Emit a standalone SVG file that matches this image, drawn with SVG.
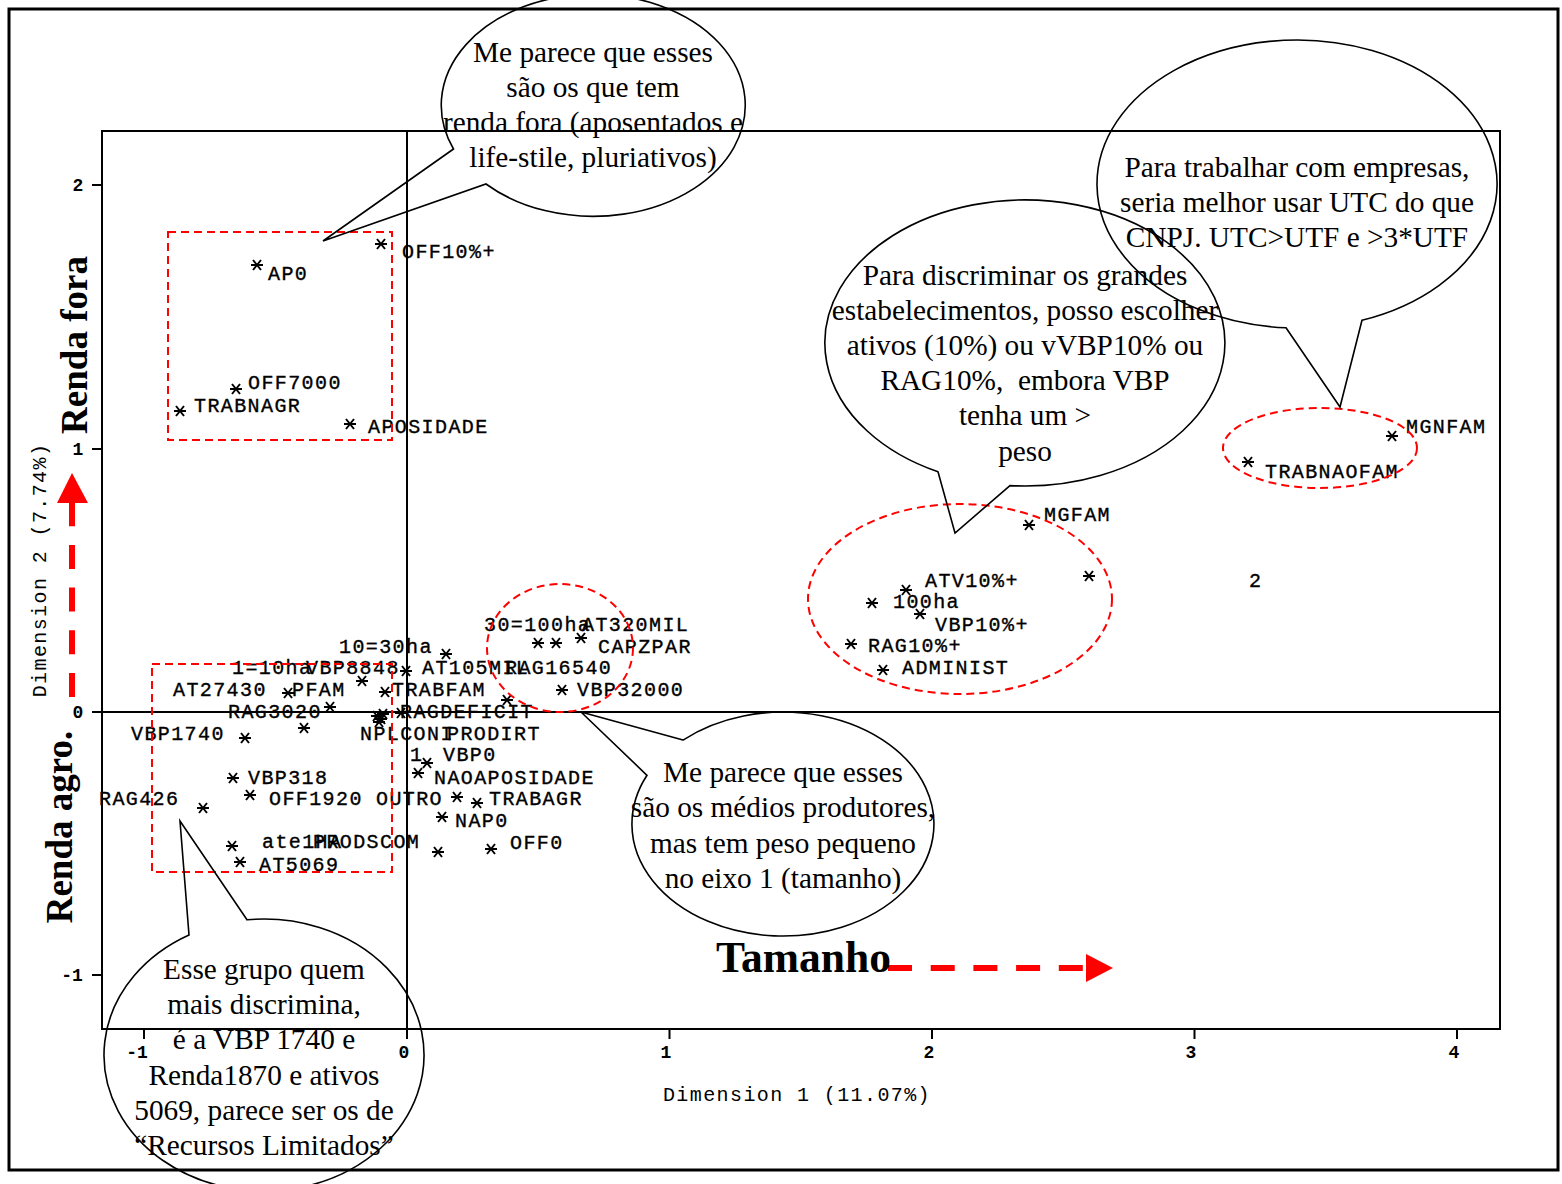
<svg xmlns="http://www.w3.org/2000/svg" xmlns:xlink="http://www.w3.org/1999/xlink" width="1562" height="1184" viewBox="0 0 1562 1184">
<style>
.lbl{font-family:"Liberation Mono","DejaVu Sans Mono",monospace;font-size:20px;letter-spacing:1.4px;fill:#000;stroke:#000;stroke-width:0.35}
.tick{font-family:"Liberation Mono","DejaVu Sans Mono",monospace;font-size:18px;font-weight:bold;fill:#000}
.dim{font-family:"Liberation Mono","DejaVu Sans Mono",monospace;font-size:20px;letter-spacing:1.4px;fill:#000}
.bub{font-family:"Liberation Serif","Times New Roman",serif;font-size:29.3px;fill:#000;text-anchor:middle}
.big{font-family:"Liberation Serif","Times New Roman",serif;font-weight:bold;fill:#000}
.frame{fill:none;stroke:#000;stroke-width:2}
.callout{fill:none;stroke:#000;stroke-width:1.6}
.grp{fill:none;stroke:#ff0000;stroke-width:2;stroke-dasharray:8 5}
.mk{fill:none;stroke:#000;stroke-width:2}
</style>
<defs>
<path id="ast" d="M-6,0H6M-4,-5L4,5M4,-5L-4,5"/>
</defs>
<rect width="1562" height="1184" fill="#fff"/>
<rect x="9" y="9" width="1549" height="1161" fill="none" stroke="#000" stroke-width="3"/>

<g id="plot-frame">
<rect class="frame" x="102" y="131" width="1398" height="898"/>
<line class="frame" x1="407" y1="131" x2="407" y2="1029"/>
<line class="frame" x1="102" y1="712" x2="1500" y2="712"/>
<path class="frame" d="M144,1029V1039M407,1029V1039M669.5,1029V1039M932,1029V1039M1194.5,1029V1039M1457,1029V1039M92,185H102M92,449H102M92,712H102M92,975H102"/>
<text class="tick" x="137" y="1058" text-anchor="middle">-1</text>
<text class="tick" x="404" y="1058" text-anchor="middle">0</text>
<text class="tick" x="666" y="1058" text-anchor="middle">1</text>
<text class="tick" x="929" y="1058" text-anchor="middle">2</text>
<text class="tick" x="1191" y="1058" text-anchor="middle">3</text>
<text class="tick" x="1454" y="1058" text-anchor="middle">4</text>
<text class="tick" x="78" y="191" text-anchor="middle">2</text>
<text class="tick" x="78" y="455" text-anchor="middle">1</text>
<text class="tick" x="78" y="718" text-anchor="middle">0</text>
<text class="tick" x="72" y="981" text-anchor="middle">-1</text>
<text class="dim" x="797" y="1101" text-anchor="middle">Dimension 1 (11.07%)</text>
<text class="dim" transform="translate(46,570) rotate(-90)" text-anchor="middle">Dimension 2 (7.74%)</text>
</g>

<g id="markers" class="mk">
<use xlink:href="#ast" href="#ast" x="381" y="244"/>
<use xlink:href="#ast" href="#ast" x="257" y="265"/>
<use xlink:href="#ast" href="#ast" x="236" y="389"/>
<use xlink:href="#ast" href="#ast" x="180" y="411"/>
<use xlink:href="#ast" href="#ast" x="350" y="424"/>
<use xlink:href="#ast" href="#ast" x="1392" y="436"/>
<use xlink:href="#ast" href="#ast" x="1248" y="462"/>
<use xlink:href="#ast" href="#ast" x="1029" y="525"/>
<use xlink:href="#ast" href="#ast" x="1089" y="576"/>
<use xlink:href="#ast" href="#ast" x="906" y="590"/>
<use xlink:href="#ast" href="#ast" x="872" y="603"/>
<use xlink:href="#ast" href="#ast" x="920" y="614"/>
<use xlink:href="#ast" href="#ast" x="851" y="644"/>
<use xlink:href="#ast" href="#ast" x="883" y="670"/>
<use xlink:href="#ast" href="#ast" x="538" y="643"/>
<use xlink:href="#ast" href="#ast" x="556" y="643"/>
<use xlink:href="#ast" href="#ast" x="581" y="638"/>
<use xlink:href="#ast" href="#ast" x="446" y="654"/>
<use xlink:href="#ast" href="#ast" x="362" y="681"/>
<use xlink:href="#ast" href="#ast" x="406" y="671"/>
<use xlink:href="#ast" href="#ast" x="288" y="693"/>
<use xlink:href="#ast" href="#ast" x="385" y="692"/>
<use xlink:href="#ast" href="#ast" x="562" y="690"/>
<use xlink:href="#ast" href="#ast" x="507" y="700"/>
<use xlink:href="#ast" href="#ast" x="330" y="707"/>
<use xlink:href="#ast" href="#ast" x="401" y="713"/>
<use xlink:href="#ast" href="#ast" x="377" y="716"/>
<use xlink:href="#ast" href="#ast" x="381" y="719"/>
<use xlink:href="#ast" href="#ast" x="379" y="722"/>
<use xlink:href="#ast" href="#ast" x="383" y="714"/>
<use xlink:href="#ast" href="#ast" x="245" y="738"/>
<use xlink:href="#ast" href="#ast" x="304" y="728"/>
<use xlink:href="#ast" href="#ast" x="427" y="763"/>
<use xlink:href="#ast" href="#ast" x="418" y="773"/>
<use xlink:href="#ast" href="#ast" x="233" y="778"/>
<use xlink:href="#ast" href="#ast" x="203" y="808"/>
<use xlink:href="#ast" href="#ast" x="250" y="795"/>
<use xlink:href="#ast" href="#ast" x="457" y="797"/>
<use xlink:href="#ast" href="#ast" x="477" y="803"/>
<use xlink:href="#ast" href="#ast" x="442" y="817"/>
<use xlink:href="#ast" href="#ast" x="232" y="846"/>
<use xlink:href="#ast" href="#ast" x="240" y="862"/>
<use xlink:href="#ast" href="#ast" x="491" y="849"/>
<use xlink:href="#ast" href="#ast" x="438" y="852"/>
</g>

<g id="point-labels">
<text class="lbl" x="402" y="258">OFF10%+</text>
<text class="lbl" x="268" y="280">AP0</text>
<text class="lbl" x="248" y="389">OFF7000</text>
<text class="lbl" x="194" y="412">TRABNAGR</text>
<text class="lbl" x="368" y="433">APOSIDADE</text>
<text class="lbl" x="1406" y="433">MGNFAM</text>
<text class="lbl" x="1265" y="478">TRABNAOFAM</text>
<text class="lbl" x="1044" y="521">MGFAM</text>
<text class="lbl" x="925" y="587">ATV10%+</text>
<text class="lbl" x="1249" y="587">2</text>
<text class="lbl" x="893" y="608">100ha</text>
<text class="lbl" x="935" y="631">VBP10%+</text>
<text class="lbl" x="868" y="652">RAG10%+</text>
<text class="lbl" x="902" y="674">ADMINIST</text>
<text class="lbl" x="484" y="631">30=100ha</text>
<text class="lbl" x="582" y="631">AT320MIL</text>
<text class="lbl" x="598" y="653">CAPZPAR</text>
<text class="lbl" x="339" y="653">10=30ha</text>
<text class="lbl" x="232" y="674">1=10ha</text>
<text class="lbl" x="306" y="674">VBP8848</text>
<text class="lbl" x="422" y="674">AT105MIL</text>
<text class="lbl" x="505" y="674">RAG16540</text>
<text class="lbl" x="173" y="696">AT27430</text>
<text class="lbl" x="292" y="696">PFAM</text>
<text class="lbl" x="392" y="696">TRABFAM</text>
<text class="lbl" x="577" y="696">VBP32000</text>
<text class="lbl" x="228" y="718">RAG3020</text>
<text class="lbl" x="400" y="718">RAGDEFICIT</text>
<text class="lbl" x="131" y="740">VBP1740</text>
<text class="lbl" x="360" y="740">NPLCONI</text>
<text class="lbl" x="447" y="740">PRODIRT</text>
<text class="lbl" x="410" y="761">1</text>
<text class="lbl" x="443" y="761">VBP0</text>
<text class="lbl" x="434" y="784">NAOAPOSIDADE</text>
<text class="lbl" x="248" y="784">VBP318</text>
<text class="lbl" x="99" y="805">RAG426</text>
<text class="lbl" x="269" y="805">OFF1920</text>
<text class="lbl" x="376" y="805">OUTRO</text>
<text class="lbl" x="489" y="805">TRABAGR</text>
<text class="lbl" x="455" y="827">NAP0</text>
<text class="lbl" x="262" y="848">ate1HA</text>
<text class="lbl" x="313" y="848">PRODSCOM</text>
<text class="lbl" x="259" y="871">AT5069</text>
<text class="lbl" x="510" y="849">OFF0</text>
</g>

<g id="groups">
<rect class="grp" x="168" y="232" width="224" height="208"/>
<rect class="grp" x="152" y="664" width="240" height="208"/>
<ellipse class="grp" cx="560" cy="648" rx="73" ry="64"/>
<ellipse class="grp" cx="960" cy="599" rx="152" ry="95"/>
<ellipse class="grp" cx="1320" cy="448" rx="97" ry="40"/>
</g>

<g id="axis-arrows" fill="#ff0000">
<path d="M72,697V503" stroke="#ff0000" stroke-width="6" stroke-dasharray="24 18.7" fill="none"/>
<polygon points="72,473 57,503 88,503"/>
<path d="M888,968H1086" stroke="#ff0000" stroke-width="6" stroke-dasharray="24 18.7" fill="none"/>
<polygon points="1113,968 1086,954 1086,982"/>
</g>

<g id="axis-titles">
<text class="big" font-size="37" transform="translate(87,345) rotate(-90)" text-anchor="middle">Renda fora</text>
<text class="big" font-size="37" transform="translate(72,827) rotate(-90)" text-anchor="middle">Renda agro.</text>
<text class="big" font-size="43.5" x="716" y="972">Tamanho</text>
</g>

<g id="callout-renda-fora">
<path class="callout" d="M453.5,149 L323,241 L486,184 A152,111 0 1,0 453.5,149 Z"/>
<text class="bub" x="593" y="62">Me parece que esses</text>
<text class="bub" x="593" y="97">são os que tem</text>
<text class="bub" x="593" y="132">renda fora (aposentados e</text>
<text class="bub" x="593" y="167">life-stile, pluriativos)</text>
</g>

<g id="callout-empresas">
<path class="callout" d="M1286,327.8 L1340,407 L1362,320.2 A200,144 0 1,0 1286,327.8 Z"/>
<text class="bub" x="1297" y="177">Para trabalhar com empresas,</text>
<text class="bub" x="1297" y="212">seria melhor usar UTC do que</text>
<text class="bub" x="1297" y="247">CNPJ. UTC&gt;UTF e &gt;3*UTF</text>
</g>

<g id="callout-grandes">
<path class="callout" d="M938,471.8 L955,533 L1010,485.6 A200,143 0 1,0 938,471.8 Z"/>
<text class="bub" x="1025" y="285">Para discriminar os grandes</text>
<text class="bub" x="1025" y="320">estabelecimentos, posso escolher</text>
<text class="bub" x="1025" y="355">ativos (10%) ou vVBP10% ou</text>
<text class="bub" x="1025" y="390" style="white-space:pre">RAG10%,  embora VBP</text>
<text class="bub" x="1025" y="425">tenha um &gt;</text>
<text class="bub" x="1025" y="461">peso</text>
</g>

<g id="callout-medios">
<path class="callout" d="M683,740.1 L581,712 L647,775.3 A151,112 0 1,0 683,740.1 Z"/>
<text class="bub" x="783" y="782">Me parece que esses</text>
<text class="bub" x="783" y="817">são os médios produtores,</text>
<text class="bub" x="783" y="853">mas tem peso pequeno</text>
<text class="bub" x="783" y="888">no eixo 1 (tamanho)</text>
</g>

<g id="callout-recursos">
<path class="callout" d="M247,919.8 L180,821 L189,934.9 A160,136 0 1,0 247,919.8 Z"/>
<text class="bub" x="264" y="979">Esse grupo quem</text>
<text class="bub" x="264" y="1014">mais discrimina,</text>
<text class="bub" x="264" y="1049">é a VBP 1740 e</text>
<text class="bub" x="264" y="1085">Renda1870 e ativos</text>
<text class="bub" x="264" y="1120">5069, parece ser os de</text>
<text class="bub" x="264" y="1155">“Recursos Limitados”</text>
</g>
</svg>
